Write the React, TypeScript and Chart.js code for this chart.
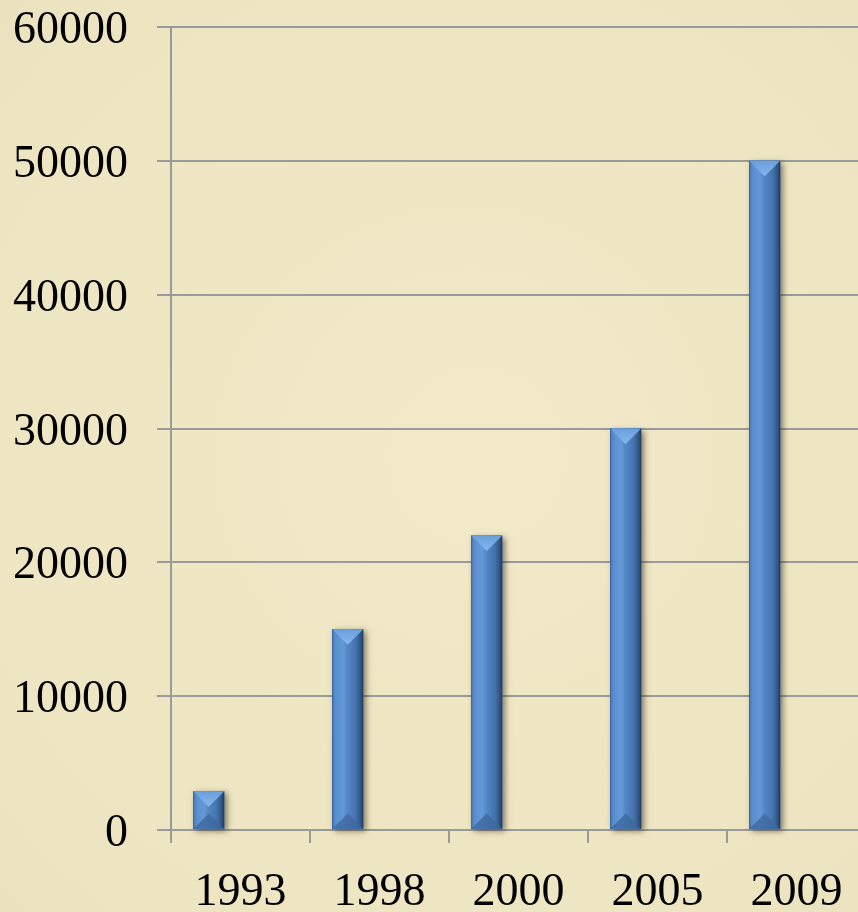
import React, { useEffect, useRef } from "react";
import { Chart, registerables } from "chart.js";

Chart.register(...registerables);

const categories: string[] = ["1993", "1998", "2000", "2005", "2009"];
const seriesValues: number[] = [2900, 15000, 22000, 30000, 50000];
const emptySeries: (number | null)[] = [null, null, null, null, null];
const yMin = 0;
const yMax = 60000;
const yStep = 10000;

const GRID = "#9a9a9a";
const FONT = "'Liberation Serif', 'DejaVu Serif', serif";

const backgroundPlugin = {
  id: "parchment",
  beforeDraw(chart: any) {
    const { ctx, width, height } = chart;
    ctx.save();
    ctx.fillStyle = "#eee5c2";
    ctx.fillRect(0, 0, width, height);
    const g = ctx.createRadialGradient(width * 0.55, height * 0.5, 50, width * 0.5, height * 0.5, width * 0.8);
    g.addColorStop(0, "rgba(246,239,210,0.4)");
    g.addColorStop(0.6, "rgba(240,232,200,0.1)");
    g.addColorStop(1, "rgba(220,212,175,0.3)");
    ctx.fillStyle = g;
    ctx.fillRect(0, 0, width, height);
    ctx.restore();
  },
};

const bevelPlugin = {
  id: "bevel",
  beforeDatasetsDraw(chart: any) {
    const meta = chart.getDatasetMeta(0);
    const ctx = chart.ctx;
    ctx.save();
    meta.data.forEach((el: any) => {
      const { x, y, base, width } = el.getProps(["x", "y", "base", "width"], true);
      const l = x - width / 2;
      ctx.shadowColor = "rgba(40,30,10,0.55)";
      ctx.shadowBlur = 6;
      ctx.shadowOffsetX = 3;
      ctx.shadowOffsetY = 2;
      ctx.fillStyle = "#3a6196";
      ctx.fillRect(l, y, width, base - y);
    });
    ctx.restore();
  },
  afterDatasetsDraw(chart: any) {
    const meta = chart.getDatasetMeta(0);
    const ctx = chart.ctx;
    ctx.save();
    meta.data.forEach((el: any) => {
      const { x, y, base, width } = el.getProps(["x", "y", "base", "width"], true);
      const l = x - width / 2;
      const r = x + width / 2;
      const h = base - y;
      const g = ctx.createLinearGradient(l, 0, r, 0);
      g.addColorStop(0, "#4a7dbd");
      g.addColorStop(0.12, "#5a8ed0");
      g.addColorStop(0.35, "#6499d8");
      g.addColorStop(0.5, "#5286c6");
      g.addColorStop(0.75, "#4474ad");
      g.addColorStop(0.9, "#33598a");
      g.addColorStop(1, "#1f3a5e");
      ctx.fillStyle = g;
      ctx.fillRect(l, y, width, h);
      const d = Math.min(width / 2, h / 2);
      ctx.beginPath();
      ctx.moveTo(l, y);
      ctx.lineTo(r, y);
      ctx.lineTo(x, y + d);
      ctx.closePath();
      const tg = ctx.createLinearGradient(0, y, 0, y + d);
      tg.addColorStop(0, "#6a9fdc");
      tg.addColorStop(1, "#86b6ee");
      ctx.fillStyle = tg;
      ctx.fill();
      ctx.beginPath();
      ctx.moveTo(l, base);
      ctx.lineTo(r, base);
      ctx.lineTo(x, base - d);
      ctx.closePath();
      ctx.fillStyle = "rgba(62,104,158,0.8)";
      ctx.fill();
      ctx.fillStyle = "rgba(30,55,90,0.35)";
      ctx.fillRect(l, y, 1, h);
    });
    ctx.restore();
  },
};

export default function App() {
  const ref = useRef<HTMLCanvasElement | null>(null);
  useEffect(() => {
    if (!ref.current) return;
    const chart = new Chart(ref.current, {
      type: "bar",
      data: {
        labels: categories,
        datasets: [
          {
            label: "Series 1",
            data: seriesValues,
            backgroundColor: "#4f82c0",
            borderWidth: 0,
            categoryPercentage: 0.915,
            barPercentage: 0.487,
          },
          {
            label: "Series 2",
            data: emptySeries,
            backgroundColor: "rgba(0,0,0,0)",
            categoryPercentage: 0.915,
            barPercentage: 0.487,
          },
        ],
      },
      options: {
        responsive: false,
        animation: false,
        devicePixelRatio: 1,
        layout: { padding: { top: 27, right: 4, left: 0, bottom: 0 } },
        plugins: { legend: { display: false }, tooltip: { enabled: false } },
        scales: {
          x: {
            offset: true,
            grid: {
              display: true,
              drawOnChartArea: false,
              drawTicks: true,
              tickLength: 13,
              color: GRID,
              lineWidth: 2,
            },
            border: { display: true, color: GRID, width: 2 },
            ticks: {
              color: "#000",
              font: { family: FONT, size: 46 },
              padding: 22,
              maxRotation: 0,
              autoSkip: false,
            },
            afterFit: (s: any) => {
              s.height = 82;
              s.paddingLeft = 0;
              s.paddingRight = 0;
            },
          },
          y: {
            min: yMin,
            max: yMax,
            grid: { color: GRID, lineWidth: 2, tickLength: 14, drawTicks: true },
            border: { display: true, color: GRID, width: 2 },
            ticks: {
              stepSize: yStep,
              color: "#000",
              font: { family: FONT, size: 46 },
              padding: 29,
              labelOffset: 4,
              callback: (v: any) => String(v),
            },
            afterFit: (s: any) => {
              s.width = 171;
              s.paddingTop = 0;
              s.paddingBottom = 0;
            },
          },
        },
      },
      plugins: [backgroundPlugin, bevelPlugin],
    });
    return () => chart.destroy();
  }, []);
  return (
    <div style={{ position: "fixed", left: 0, top: 0, width: 858, height: 912, overflow: "hidden", background: "#eee5c2" }}>
      <canvas ref={ref} width={870} height={912} style={{ display: "block", width: 870, height: 912 }} />
    </div>
  );
}
